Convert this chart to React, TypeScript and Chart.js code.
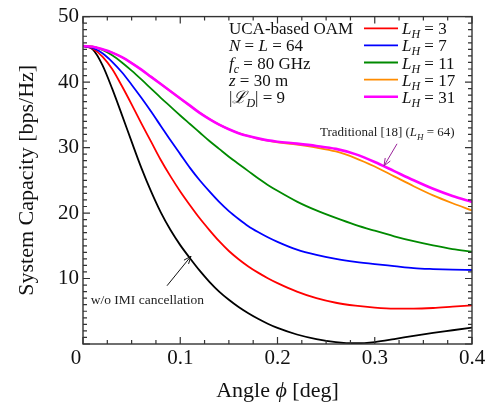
import React, { useEffect, useRef } from 'react';
import { Chart, registerables } from 'chart.js';

Chart.register(...registerables);

// ---- data ----
const angles = [
  0, 0.01, 0.02, 0.03, 0.04, 0.05, 0.06, 0.07, 0.08, 0.09, 0.1,
  0.11, 0.12, 0.13, 0.14, 0.15, 0.16, 0.17, 0.18, 0.19, 0.2,
  0.22, 0.24, 0.26, 0.28, 0.3, 0.32, 0.34, 0.36, 0.38, 0.4,
];
const noIMI = [
  45.5, 45.0, 42.6, 39.0, 35.0, 30.9, 26.9, 23.3, 20.1, 17.4, 15.1,
  13.1, 11.2, 9.5, 8.0, 6.75, 5.65, 4.7, 3.85, 3.1, 2.45,
  1.45, 0.75, 0.3, 0.12, 0.3, 0.75, 1.25, 1.7, 2.1, 2.5,
];
const lh3 = [
  45.5, 45.1, 43.9, 42.0, 39.4, 36.6, 33.7, 30.9, 28.1, 25.6, 23.3,
  21.2, 19.2, 17.4, 15.7, 14.2, 12.95, 11.85, 10.9, 10.05, 9.3,
  8.0, 7.0, 6.3, 5.85, 5.55, 5.4, 5.4, 5.5, 5.7, 5.9,
];
const lh7 = [
  45.5, 45.2, 44.4, 43.1, 41.5, 39.6, 37.6, 35.5, 33.3, 31.1, 29.0,
  26.9, 25.0, 23.3, 21.7, 20.3, 19.1, 18.0, 17.1, 16.3, 15.6,
  14.4, 13.6, 13.0, 12.55, 12.2, 11.9, 11.6, 11.45, 11.35, 11.3,
];
const lh11 = [
  45.5, 45.4, 44.9, 44.1, 43.0, 41.75, 40.4, 39.0, 37.6, 36.25, 34.9,
  33.6, 32.3, 31.0, 29.8, 28.6, 27.5, 26.4, 25.3, 24.3, 23.4,
  21.75, 20.4, 19.25, 18.2, 17.3, 16.45, 15.7, 15.05, 14.5, 14.1,
];
const lh17 = [
  45.5, 45.4, 45.0, 44.5, 43.8, 42.9, 41.9, 40.8, 39.7, 38.6, 37.5,
  36.4, 35.3, 34.35, 33.5, 32.8, 32.2, 31.75, 31.35, 31.05, 30.8,
  30.45, 30.0, 29.4, 28.4, 27.1, 25.6, 24.1, 22.7, 21.5, 20.4,
];
const lh31 = [
  45.5, 45.4, 45.0, 44.5, 43.8, 42.9, 41.9, 40.8, 39.7, 38.6, 37.5,
  36.4, 35.3, 34.35, 33.5, 32.8, 32.2, 31.75, 31.4, 31.1, 30.9,
  30.6, 30.25, 29.8, 29.0, 27.8, 26.4, 25.0, 23.7, 22.6, 21.7,
];
const LH_VALUES = [3, 7, 11, 17, 31];
const xTickValues = [0, 0.1, 0.2, 0.3, 0.4];
const yTickValues = [10, 20, 30, 40, 50];

const SERIF = '"Liberation Serif", "DejaVu Serif", serif';

type Seg = { t: string; it?: boolean; sub?: boolean };

function drawRich(ctx: CanvasRenderingContext2D, segs: Seg[], x: number, y: number, size: number, align: 'left' | 'center' = 'left') {
  const fontFor = (s: Seg) => `${s.it ? 'italic ' : ''}${s.sub ? Math.round(size * 0.7) : size}px ${SERIF}`;
  let total = 0;
  for (const s of segs) {
    ctx.font = fontFor(s);
    total += ctx.measureText(s.t).width;
  }
  let cx = align === 'center' ? x - total / 2 : x;
  ctx.textAlign = 'left';
  ctx.textBaseline = 'alphabetic';
  for (const s of segs) {
    ctx.font = fontFor(s);
    ctx.fillText(s.t, cx, s.sub ? y + size * 0.24 : y);
    cx += ctx.measureText(s.t).width;
  }
}

function arrow(ctx: CanvasRenderingContext2D, x1: number, y1: number, x2: number, y2: number, color: string) {
  ctx.save();
  ctx.strokeStyle = color;
  ctx.lineWidth = 1;
  ctx.beginPath();
  ctx.moveTo(x1, y1);
  ctx.lineTo(x2, y2);
  const a = Math.atan2(y2 - y1, x2 - x1);
  const h = 8;
  ctx.moveTo(x2 - h * Math.cos(a - 0.38), y2 - h * Math.sin(a - 0.38));
  ctx.lineTo(x2, y2);
  ctx.lineTo(x2 - h * Math.cos(a + 0.38), y2 - h * Math.sin(a + 0.38));
  ctx.stroke();
  ctx.restore();
}

const decorPlugin = {
  id: 'decor',
  afterDraw(chart: any) {
    const ctx: CanvasRenderingContext2D = chart.ctx;
    const { left, right, top, bottom } = chart.chartArea;
    const xs = chart.scales.x;
    const ys = chart.scales.y;
    ctx.save();
    // frame
    ctx.strokeStyle = '#333';
    ctx.lineWidth = 1.4;
    ctx.strokeRect(left, top, right - left, bottom - top);
    // ticks
    ctx.lineWidth = 1.2;
    ctx.beginPath();
    for (let i = 0; i <= 16; i++) {
      const v = i * 0.025;
      const px = xs.getPixelForValue(v);
      const len = i % 4 === 0 ? 7 : 4;
      ctx.moveTo(px, bottom);
      ctx.lineTo(px, bottom - len);
      ctx.moveTo(px, top);
      ctx.lineTo(px, top + len);
    }
    for (let v = 0; v <= 50; v++) {
      const py = ys.getPixelForValue(v);
      const len = v % 10 === 0 ? 7 : 4;
      ctx.moveTo(left, py);
      ctx.lineTo(left + len, py);
      ctx.moveTo(right, py);
      ctx.lineTo(right - len, py);
    }
    ctx.stroke();

    ctx.fillStyle = '#111';
    // shared origin label
    ctx.font = `21px ${SERIF}`;
    ctx.textAlign = 'center';
    ctx.textBaseline = 'middle';
    ctx.fillText('0', left - 7, bottom + 2 + 12.6);

    // axis titles
    ctx.save();
    ctx.translate(27, (top + bottom) / 2);
    ctx.rotate(-Math.PI / 2);
    ctx.font = `22px ${SERIF}`;
    ctx.textAlign = 'center';
    ctx.textBaseline = 'middle';
    ctx.fillText('System Capacity [bps/Hz]', 0, 0);
    ctx.restore();
    drawRich(ctx, [{ t: 'Angle ' }, { t: 'ϕ', it: true }, { t: ' [deg]' }], (left + right) / 2, 397, 22, 'center');

    // legend: parameter column
    const fs = 17;
    const rows = [34.3, 51.4, 68.5, 85.6, 102.7];
    const paramSegs: Seg[][] = [
      [{ t: 'UCA-based OAM' }],
      [{ t: 'N', it: true }, { t: ' = ' }, { t: 'L', it: true }, { t: ' = 64' }],
      [{ t: 'f', it: true }, { t: 'c', it: true, sub: true }, { t: ' = 80 GHz' }],
      [{ t: 'z', it: true }, { t: ' = 30 m' }],
      [{ t: '|' }, { t: 'ℒ', it: true }, { t: 'D', it: true, sub: true }, { t: '| = 9' }],
    ];
    paramSegs.forEach((segs, i) => drawRich(ctx, segs, 229, rows[i], fs));

    // legend: series column
    const ds = chart.data.datasets;
    LH_VALUES.forEach((lh, i) => {
      const d = ds.find((q: any) => q.label === `L_H = ${lh}`);
      const ly = rows[i] - 6;
      ctx.strokeStyle = d.borderColor;
      ctx.lineWidth = d.borderWidth;
      ctx.beginPath();
      ctx.moveTo(364, ly);
      ctx.lineTo(398, ly);
      ctx.stroke();
      drawRich(ctx, [{ t: 'L', it: true }, { t: 'H', it: true, sub: true }, { t: ` = ${lh}` }], 402, rows[i], fs);
    });

    // annotations
    const purple = '#992299';
    ctx.fillStyle = '#222';
    drawRich(
      ctx,
      [{ t: 'Traditional [18] (' }, { t: 'L', it: true }, { t: 'H', it: true, sub: true }, { t: ' = 64)' }],
      xs.getPixelForValue(0.2437),
      ys.getPixelForValue(31.7),
      13,
    );
    arrow(ctx, xs.getPixelForValue(0.3229), ys.getPixelForValue(30.57), xs.getPixelForValue(0.3095), ys.getPixelForValue(27.2), purple);

    drawRich(ctx, [{ t: 'w/o IMI cancellation' }], xs.getPixelForValue(0.0079), ys.getPixelForValue(6.17), 13.5);
    arrow(ctx, xs.getPixelForValue(0.0864), ys.getPixelForValue(8.9), xs.getPixelForValue(0.111), ys.getPixelForValue(13.4), '#111');

    ctx.restore();
  },
};

function pts(vals: number[]) {
  return vals.map((y, i) => ({ x: angles[i], y }));
}

export default function App() {
  const ref = useRef<HTMLCanvasElement>(null);
  useEffect(() => {
    if (!ref.current) return;
    const common = { pointRadius: 0, fill: false, cubicInterpolationMode: 'monotone' as const, borderWidth: 1.8 };
    const chart = new Chart(ref.current, {
      type: 'line',
      data: {
        datasets: [
          { label: `L_H = ${LH_VALUES[4]}`, data: pts(lh31), borderColor: '#ff00ff', ...common, borderWidth: 2.6, order: 0 },
          { label: `L_H = ${LH_VALUES[3]}`, data: pts(lh17), borderColor: '#ff8c00', ...common, order: 1 },
          { label: `L_H = ${LH_VALUES[2]}`, data: pts(lh11), borderColor: '#008a00', ...common, order: 2 },
          { label: `L_H = ${LH_VALUES[1]}`, data: pts(lh7), borderColor: '#0000ff', ...common, order: 3 },
          { label: `L_H = ${LH_VALUES[0]}`, data: pts(lh3), borderColor: '#ff0000', ...common, order: 4 },
          { label: 'w/o IMI cancellation', data: pts(noIMI), borderColor: '#000000', ...common, order: 5 },
        ],
      },
      options: {
        animation: false,
        responsive: false,
        layout: { padding: { top: 12, right: 23, left: 0, bottom: 0 } },
        plugins: { legend: { display: false }, tooltip: { enabled: false } },
        scales: {
          x: {
            type: 'linear',
            min: 0,
            max: 0.4,
            grid: { display: false, drawTicks: false },
            border: { display: false },
            afterFit: (s: any) => { s.height = 60; },
            afterBuildTicks: (s: any) => { s.ticks = xTickValues.map((v) => ({ value: v })); },
            ticks: {
              padding: 2,
              color: '#111',
              font: { family: SERIF, size: 21 },
              callback: (v: any) => (Number(v) === 0 ? '' : String(Number(Number(v).toFixed(1)))),
            },
          },
          y: {
            type: 'linear',
            min: 0,
            max: 50,
            grid: { display: false, drawTicks: false },
            border: { display: false },
            afterFit: (s: any) => { s.width = 83; },
            afterBuildTicks: (s: any) => { s.ticks = yTickValues.map((v) => ({ value: v })); },
            ticks: {
              padding: 4,
              color: '#111',
              font: { family: SERIF, size: 21 },
              callback: (v: any) => String(v),
            },
          },
        },
      },
      plugins: [decorPlugin],
    });
    return () => chart.destroy();
  }, []);
  return (
    <div style={{ position: 'fixed', left: 0, top: 0, width: 495, height: 404, background: '#fff' }}>
      <canvas ref={ref} width={495} height={404} style={{ display: 'block' }} />
    </div>
  );
}
